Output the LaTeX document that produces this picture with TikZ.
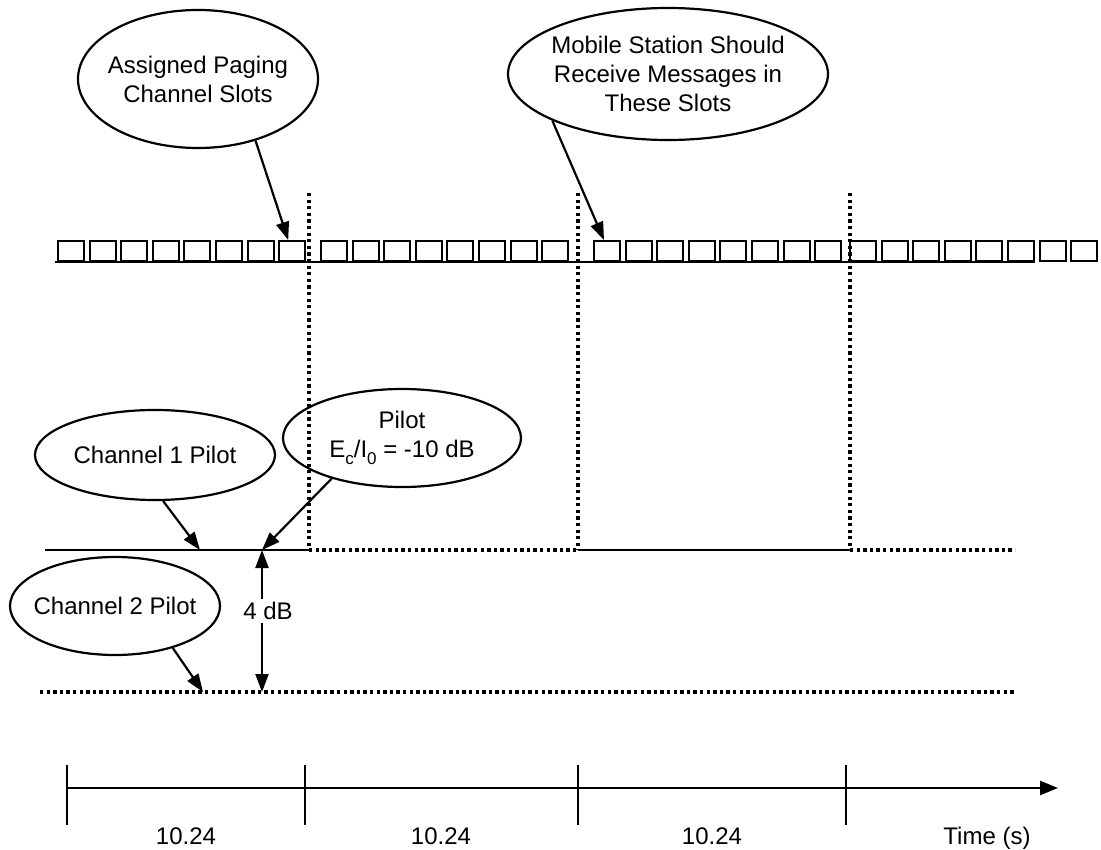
\documentclass[tikz,border=0pt]{standalone}
\usepackage{fontspec}
\setmainfont{Liberation Sans}
\usetikzlibrary{shapes.geometric,arrows.meta}
\newcommand{\mysub}[1]{\raisebox{-0.3em}{\fontsize{17}{17}\selectfont #1}}
\begin{document}
\begin{tikzpicture}[x=1pt,y=-1pt,
  every node/.style={font=\fontsize{24}{29}\selectfont},
  bubble/.style={draw, ellipse, line width=2.2pt, inner ysep=0pt, inner xsep=-8pt, align=center},
  slotbox/.style={draw, rectangle, line width=2pt, minimum width=26pt, minimum height=20pt, inner sep=0pt, anchor=south west},
  solidln/.style={line width=2.2pt},
  dotln/.style={line width=3.3pt, dash pattern=on 3.3pt off 3.3pt},
  ptr/.style={line width=2.2pt, -{Triangle[length=18pt,width=13pt]}},
  axisarrow/.style={line width=2.5pt, -{Triangle[length=18pt,width=14pt]}}
]
\useasboundingbox (0,0) rectangle (1101,850);

% slots
\foreach \s/\xo in {0/57,1/320,2/593,3/849} {
  \foreach \i in {0,...,7} {
    \pgfmathtruncatemacro\n{\s*8+\i+1}
    \node[slotbox] (s\n) at (\xo+\i*31.6,262) {};
  }
}
\coordinate (b0) at (55,262);
\coordinate (b1) at (1035,262);
\draw[solidln] (b0) -- (b1);

% bubbles
\node[bubble, minimum width=240pt, minimum height=138pt] (assigned) at (198,79) {Assigned Paging\\Channel Slots};
\node[bubble, minimum width=320pt, minimum height=132pt] (mobile) at (668,74) {Mobile Station Should\\Receive Messages in\\These Slots};
\node[bubble, minimum width=240pt, minimum height=90pt] (ch1) at (155,455) {Channel 1 Pilot};
\node[bubble, minimum width=238pt, minimum height=98pt] (pilot) at (402,438) {Pilot\\E\mysub{c}/I\mysub{0} = -10 dB};
\node[bubble, minimum width=210pt, minimum height=98pt] (ch2) at (115,606) {Channel 2 Pilot};

% pilot levels
\coordinate (p0) at (45,550);
\coordinate (p1) at (309,550);
\coordinate (p2) at (578,550);
\coordinate (p3) at (850,550);
\coordinate (p4) at (1015,550);
\coordinate (v1) at (309,193);
\coordinate (v2) at (578,193);
\coordinate (v3) at (850,193);
\coordinate (q0) at (40,692);
\coordinate (q1) at (1015,692);
\draw[solidln] (p0) -- (p1);
\draw[dotln] (p1) -- (p2);
\draw[solidln] (p2) -- (p3);
\draw[dotln] (p3) -- (p4);
\draw[dotln] (v1) -- (p1);
\draw[dotln] (v2) -- (p2);
\draw[dotln] (v3) -- (p3);
\draw[dotln] (q0) -- (q1);

% pointers
\coordinate (c1tip) at (200,550);
\coordinate (m1) at (262,550);
\coordinate (m2) at (262,692);
\coordinate (c2tip) at (203,692);
\draw[ptr] (assigned.-47) -- ([xshift=-4pt]s8.north);
\draw[ptr] (mobile.-158) -- ([xshift=-3pt]s17.north);
\draw[ptr] (ch1.-80) -- (c1tip);
\draw[ptr] (pilot.-150) -- (m1);
\draw[ptr] (ch2.-36) -- (c2tip);
\node (db) at (268,611) {4 dB};
\draw[ptr] (db.north -| m1) -- (m1);
\draw[ptr] (db.south -| m1) -- (m2);

% time axis
\coordinate (a0) at (67,788);
\coordinate (a1) at (1058,788);
\draw[axisarrow] (a0) -- (a1);
\foreach \x/\k in {67/1,305/2,578/3,846/4} {
  \coordinate (tt\k) at (\x,765);
  \coordinate (tb\k) at (\x,825);
  \draw[line width=2.5pt] (tt\k) -- (tb\k);
}
\node[anchor=base] (l1) at (186,844) {10.24};
\node[anchor=base] (l2) at (441,844) {10.24};
\node[anchor=base] (l3) at (712,844) {10.24};
\node[anchor=base] (time) at (987,844) {Time (s)};
\end{tikzpicture}
\end{document}
